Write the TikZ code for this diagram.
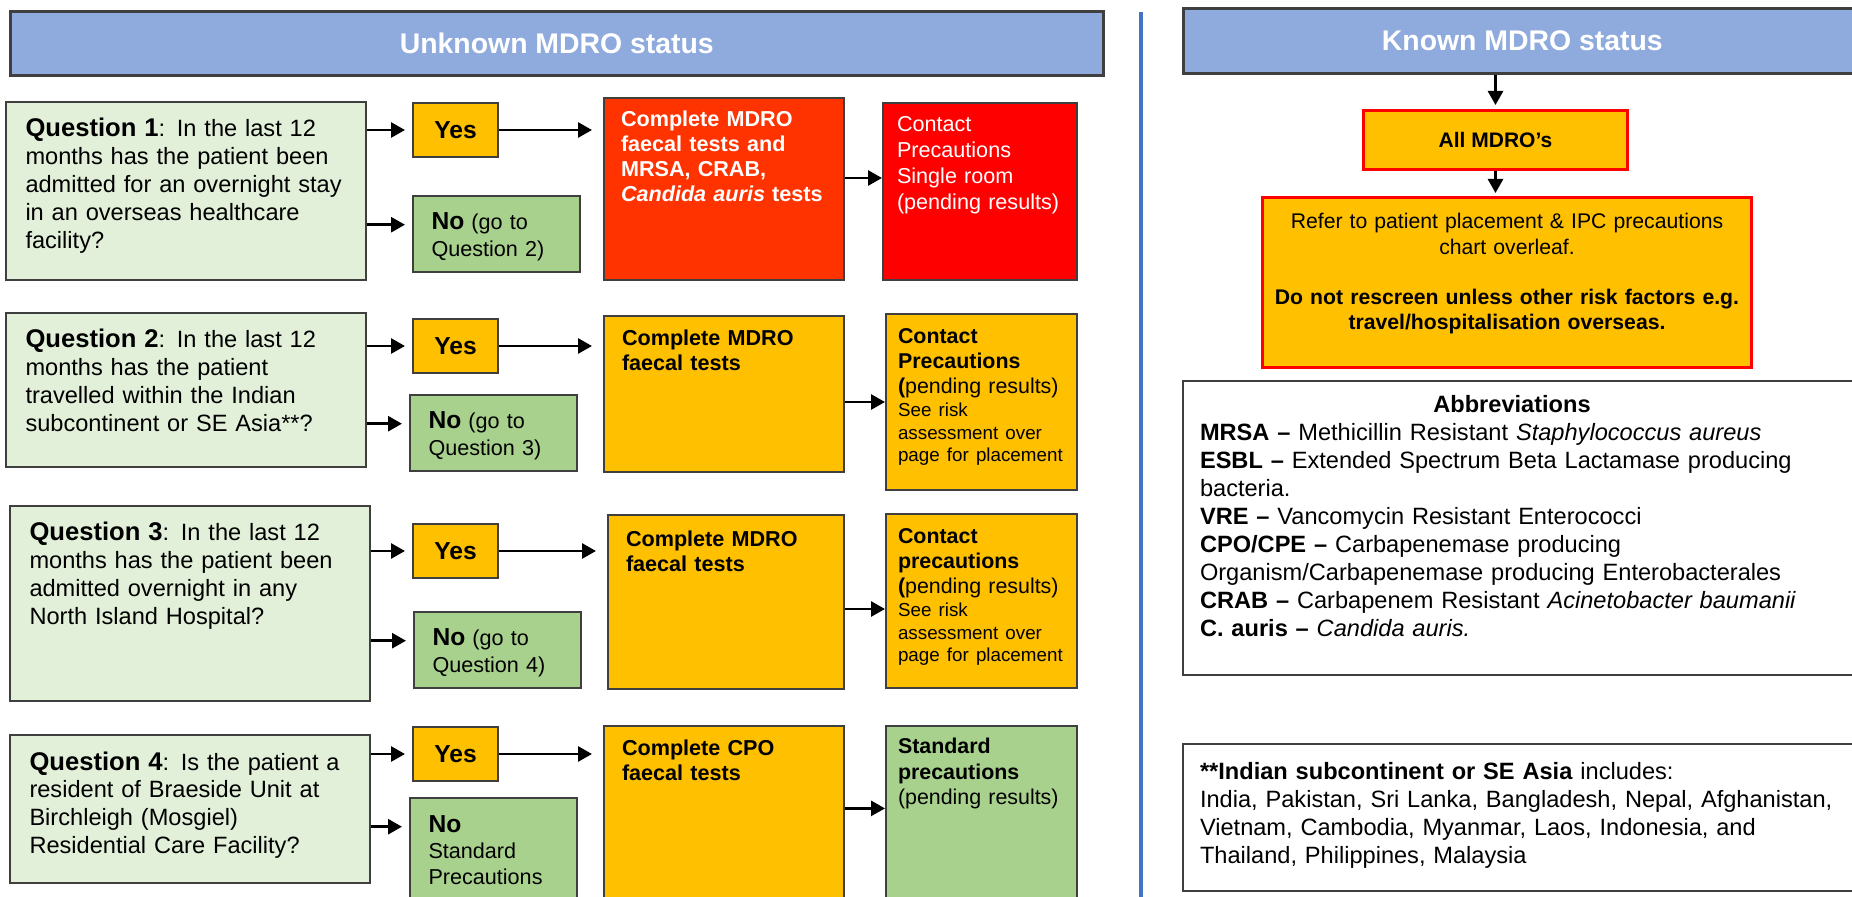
\documentclass[tikz,border=0pt]{standalone}
\usepackage{fontspec}
\setmainfont{Liberation Sans}
\usetikzlibrary{arrows.meta, positioning}
\hyphenpenalty=10000
\exhyphenpenalty=10000

\definecolor{headblue}{HTML}{8FAADC}
\definecolor{qgreen}{HTML}{E2F0D9}
\definecolor{amber}{HTML}{FFC000}
\definecolor{leaf}{HTML}{A9D18E}
\definecolor{redorange}{HTML}{FF3300}
\definecolor{alertred}{HTML}{FF0000}
\definecolor{edgegray}{HTML}{3F3F3F}
\definecolor{divblue}{HTML}{4472C4}

\begin{document}
\begin{tikzpicture}[x=0.5pt, y=-0.5pt, >={Triangle[length=7pt, width=7.5pt]},
  frame/.style={draw=edgegray, line width=1pt, anchor=north west},
  header/.style={frame, line width=1.3pt, fill=headblue, text=white, font=\fontsize{14.2}{17}\selectfont\bfseries},
  question/.style={frame, fill=qgreen, inner xsep=9.75pt, inner ysep=0pt, text width=160.5pt, align=left, text height=17.5pt, font=\fontsize{11.8}{13.9}\selectfont},
  yesbox/.style={frame, fill=amber, minimum width=42.5pt, minimum height=27pt, font=\fontsize{12.3}{14}\selectfont\bfseries},
  nobox/.style={frame, fill=leaf, inner xsep=9.25pt, inner ysep=0pt, text width=65pt, align=left, text height=17pt, font=\fontsize{10.8}{13.2}\selectfont},
  testbox/.style={frame, fill=amber, inner xsep=9pt, inner ysep=0pt, text width=102pt, align=left, text height=15pt, font=\fontsize{10.8}{12.5}\selectfont\bfseries},
  carebox/.style={frame, fill=amber, inner xsep=6pt, inner ysep=0pt, text width=83.5pt, align=left, text height=14.6pt, font=\fontsize{10.7}{12.7}\selectfont},
  alert/.style={draw=alertred, line width=1.5pt, fill=amber, anchor=north west},
  note/.style={frame, fill=white, inner xsep=8.5pt, inner ysep=0pt, text width=322pt, align=left, font=\fontsize{11.8}{13.95}\selectfont},
  link/.style={->, line width=1.4pt},
  divider/.style={draw=divblue, line width=1.6pt}]

\useasboundingbox (0,0) rectangle (1852,897);
\clip (0,0) rectangle (1852,897);

\node [header, minimum width=546.5pt, minimum height=32pt] (unknown) at (9,10) {Unknown MDRO status};
\node [header, minimum width=339pt, minimum height=32.5pt] (known) at (1182,7) {Known MDRO status};

\draw [divider] (1141,12) -- (1141,905);

\node [question, text depth=71.5pt] (q1) at (5,101) {{\fontsize{12.8}{13.9}\selectfont\bfseries Question 1}: In the last 12\\months has the patient been\\admitted for an overnight stay\\in an overseas healthcare\\facility?};
\node [question, text depth=59.5pt] (q2) at (5,312) {{\fontsize{12.8}{13.9}\selectfont\bfseries Question 2}: In the last 12\\months has the patient\\travelled within the Indian\\subcontinent or SE Asia**?};
\node [question, text depth=80pt] (q3) at (9,505) {{\fontsize{12.8}{13.9}\selectfont\bfseries Question 3}: In the last 12\\months has the patient been\\admitted overnight in any\\North Island Hospital?};
\node [question, text depth=56.5pt] (q4) at (9,734) {{\fontsize{12.8}{13.9}\selectfont\bfseries Question 4}: Is the patient a\\resident of Braeside Unit at\\Birchleigh (Mosgiel)\\Residential Care Facility?};

\node [yesbox] (yes1) at (412,102) {Yes};
\node [yesbox] (yes2) at (412,318) {Yes};
\node [yesbox] (yes3) at (412,523) {Yes};
\node [yesbox] (yes4) at (412,726) {Yes};

\node [nobox, text depth=21pt] (no1) at (412,195) {{\fontsize{12.3}{13.2}\selectfont\bfseries No} (go to\\Question 2)};
\node [nobox, text depth=21pt] (no2) at (409,394) {{\fontsize{12.3}{13.2}\selectfont\bfseries No} (go to\\Question 3)};
\node [nobox, text depth=21pt] (no3) at (413,611) {{\fontsize{12.3}{13.2}\selectfont\bfseries No} (go to\\Question 4)};
\node [nobox, text depth=37pt] (no4) at (409,797) {{\fontsize{12.3}{13.2}\selectfont\bfseries No}\\Standard\\Precautions};

\node [testbox, fill=redorange, text=white, inner xsep=8.5pt, text width=103pt, text height=14.2pt, text depth=76.8pt] (red1) at (603,97) {Complete MDRO\\faecal tests and\\MRSA, CRAB,\\\textit{Candida auris} tests};
\node [carebox, fill=alertred, text=white, inner xsep=7pt, text width=83pt, text height=14.2pt, text depth=74.3pt, font=\fontsize{10.8}{13}\selectfont] (red2) at (882,102) {Contact\\Precautions\\Single room\\(pending results)};

\node [testbox, text depth=63pt] (test2) at (603,315) {Complete MDRO\\faecal tests};
\node [carebox, text depth=73.4pt] (care2) at (885,313) {\textbf{Contact}\\\textbf{Precautions}\\\textbf{(}pending results)\par{\fontsize{9.4}{11.3}\selectfont See risk\\assessment over\\page for placement\par}};

\node [testbox, text width=100pt, text height=15.8pt, text depth=71.2pt] (test3) at (607,514) {Complete MDRO\\faecal tests};
\node [carebox, text depth=72.4pt] (care3) at (885,513) {\textbf{Contact}\\\textbf{precautions}\\\textbf{(}pending results)\par{\fontsize{9.4}{11.3}\selectfont See risk\\assessment over\\page for placement\par}};

\node [testbox, text height=14.5pt, text depth=76pt] (test4) at (603,725) {Complete CPO\\faecal tests};
\node [carebox, fill=leaf, text height=13.9pt, text depth=76.5pt] (care4) at (885,725) {\textbf{Standard}\\\textbf{precautions}\\(pending results)};

\draw [link, shorten >=3.5pt] (q1.east |- yes1.west) -- (yes1.west);
\draw [link, shorten >=3.5pt] (q1.east |- no1.mid west) -- (no1.mid west);
\draw [link, shorten >=3.5pt] (q2.east |- yes2.west) -- (yes2.west);
\draw [link, shorten >=3.5pt] (q2.east |- no2.mid west) -- (no2.mid west);
\draw [link, shorten >=3.5pt] (q3.east |- yes3.west) -- (yes3.west);
\draw [link, shorten >=3.5pt] (q3.east |- no3.mid west) -- (no3.mid west);
\draw [link, shorten >=3.5pt] (q4.east |- yes4.west) -- (yes4.west);
\draw [link, shorten >=3.5pt] (q4.east |- no4.mid west) -- (no4.mid west);

\draw [link, shorten >=5.5pt] (yes1.east) -- (yes1.east -| red1.west);
\draw [link, shorten >=5.5pt] (yes2.east) -- (yes2.east -| test2.west);
\draw [link, shorten >=5.5pt] (yes3.east) -- (yes3.east -| test3.west);
\draw [link, shorten >=5.5pt] (yes4.east) -- (yes4.east -| test4.west);

\draw [link] ([yshift=6.75pt]red2.west -| red1.east) -- ([yshift=6.75pt]red2.west);
\draw [link] (test2.east |- care2.west) -- (care2.west);
\draw [link] ([yshift=-4pt]care3.west -| test3.east) -- ([yshift=-4pt]care3.west);
\draw [link] ([yshift=4pt]care4.west -| test4.east) -- ([yshift=4pt]care4.west);

\node [alert, minimum width=132pt, minimum height=29.5pt, font=\fontsize{10.5}{12}\selectfont\bfseries] (mdro) at (1362,109) {All MDRO’s};
\node [alert, inner xsep=4pt, inner ysep=0pt, text width=236.5pt, align=center, text height=15.75pt, text depth=69.25pt, font=\fontsize{10.6}{12.9}\selectfont] (refer) at (1261,196) {Refer to patient placement \& IPC precautions\\chart overleaf.\\[11.75pt]\textbf{Do not rescreen unless other risk factors e.g.}\\\textbf{travel/hospitalisation overseas.}};

\draw [link, shorten >=2pt] (known.south -| mdro.north) -- (mdro.north);
\draw [link, shorten >=1.5pt] (mdro.south) -- (mdro.south |- refer.north);

\node [note, text height=16pt, text depth=131pt] (abbrev) at (1182,380) {\makebox[312pt]{\textbf{Abbreviations}}\\
  \textbf{MRSA –} Methicillin Resistant \textit{Staphylococcus aureus}\\
  \textbf{ESBL –} Extended Spectrum Beta Lactamase producing\\
  bacteria.\\
  \textbf{VRE –} Vancomycin Resistant Enterococci\\
  \textbf{CPO/CPE –} Carbapenemase producing\\
  Organism/Carbapenemase producing Enterobacterales\\
  \textbf{CRAB –} Carbapenem Resistant \textit{Acinetobacter baumanii}\\
  \textbf{C. auris –} \textit{Candida auris.}};

\node [note, text height=17.8pt, text depth=55.7pt, font=\fontsize{11.8}{14}\selectfont] (asia) at (1182,743) {\textbf{**Indian subcontinent or SE Asia} includes:\\
  India, Pakistan, Sri Lanka, Bangladesh, Nepal, Afghanistan,\\
  Vietnam, Cambodia, Myanmar, Laos, Indonesia, and\\
  Thailand, Philippines, Malaysia};

\end{tikzpicture}
\end{document}
